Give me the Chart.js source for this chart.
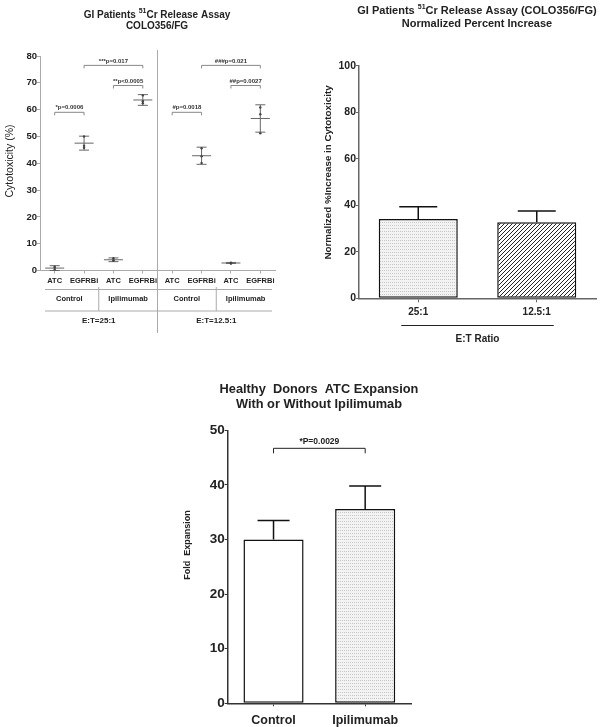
<!DOCTYPE html>
<html lang="en">
<head>
<meta charset="UTF-8">
<title>GI Patients 51Cr Release Assay / ATC Expansion</title>
<script src="https://cdn.jsdelivr.net/npm/chart.js"></script>
<style>
  body { margin: 0; background: #fff; }
  canvas { position: absolute; }
</style>
</head>
<body>
<canvas id="chartA" width="300" height="345" style="left:0;top:0"></canvas>
<canvas id="chartB" width="300" height="345" style="left:300px;top:0"></canvas>
<canvas id="chartC" width="300" height="362" style="left:150px;top:365px"></canvas>

<script>
// ---- panel A: cytotoxicity, replicate points + mean/SD ----
const cellsA = ['ATC', 'EGFRBi', 'ATC', 'EGFRBi', 'ATC', 'EGFRBi', 'ATC', 'EGFRBi'];
const treatA = ['Control', 'Ipilimumab', 'Control', 'Ipilimumab'];
const ratioA = ['E:T=25:1', 'E:T=12.5:1'];
const rep1A = [0.3, 50.0, 4.6, 65.3, null, 45.6, 2.9, 60.8];
const rep2A = [1.4, 46.5, 3.6, 62.4, null, 42.6, 2.6, 58.3];
const rep3A = [1.0, 45.8, 3.8, 63.1, null, 40.1, 2.7, 51.2];
const meanA = [0.9, 47.5, 4.0, 63.6, null, 42.8, 2.8, 56.7];
const sdA   = [0.9, 2.6, 0.7, 2.0, null, 3.2, 0.2, 5.1];
const sigTextA = ['*p=0.0006', '**p<0.0005', '***p=0.017', '#p=0.0018', '##p=0.0027', '###p=0.021'];
const sigFromA = [0, 2, 1, 4, 6, 5];
const sigToA   = [1, 3, 3, 5, 7, 7];
const sigAtA   = [59, 69, 76.5, 59, 69, 76.5];

// ---- panel B: normalized % increase ----
const ratioB = ['25:1', '12.5:1'];
const meanB = [34.1, 32.7];
const errB  = [5.3, 4.8];

// ---- panel C: fold expansion ----
const groupC = ['Control', 'Ipilimumab'];
const meanC = [30.0, 35.6];
const errC  = [3.5, 4.2];
const sigTextC = '*P=0.0029';
const sigAtC = 46.7;

const FONT = 'Arial, "Liberation Sans", sans-serif';
Chart.defaults.font.family = FONT;
Chart.defaults.color = '#222';

function stipple() {
  const c = document.createElement('canvas');
  c.width = 2; c.height = 3;
  const g = c.getContext('2d');
  g.fillStyle = '#f3f3f3'; g.fillRect(0, 0, 2, 3);
  g.fillStyle = '#c6c6c6'; g.fillRect(0, 0, 1, 1);
  return g.createPattern(c, 'repeat');
}
function hatch() {
  const s = 4, c = document.createElement('canvas');
  c.width = s; c.height = s;
  const g = c.getContext('2d');
  g.fillStyle = '#fff'; g.fillRect(0, 0, s, s);
  g.strokeStyle = '#222'; g.lineWidth = 1;
  g.beginPath();
  g.moveTo(0, s); g.lineTo(s, 0);
  g.moveTo(-1, 1); g.lineTo(1, -1);
  g.moveTo(s - 1, s + 1); g.lineTo(s + 1, s - 1);
  g.stroke();
  return g.createPattern(c, 'repeat');
}

function text(ctx, s, x, y, size, o = {}) {
  ctx.save();
  ctx.font = `${o.weight || 'bold'} ${size}px ${FONT}`;
  ctx.fillStyle = o.color || '#222';
  ctx.textAlign = o.align || 'center';
  ctx.textBaseline = 'middle';
  if (o.rotate) {
    ctx.translate(x, y); ctx.rotate(-Math.PI / 2); ctx.fillText(s, 0, 0);
  } else {
    ctx.fillText(s, x, y);
  }
  ctx.restore();
}
// title with superscript "51"
function supTitle(ctx, pre, sup, post, cx, y, size) {
  const f = `bold ${size}px ${FONT}`, fs = `bold ${Math.round(size * 0.65)}px ${FONT}`;
  ctx.save();
  ctx.font = f; const w1 = ctx.measureText(pre).width, w3 = ctx.measureText(post).width;
  ctx.font = fs; const w2 = ctx.measureText(sup).width;
  let x = cx - (w1 + w2 + w3) / 2;
  ctx.fillStyle = '#222'; ctx.textBaseline = 'middle'; ctx.textAlign = 'left';
  ctx.font = f; ctx.fillText(pre, x, y); x += w1;
  ctx.font = fs; ctx.fillText(sup, x, y - size * 0.35); x += w2;
  ctx.font = f; ctx.fillText(post, x, y);
  ctx.restore();
}
function line(ctx, x1, y1, x2, y2, color, w) {
  ctx.save();
  ctx.strokeStyle = color; ctx.lineWidth = w || 1;
  ctx.beginPath(); ctx.moveTo(x1, y1); ctx.lineTo(x2, y2); ctx.stroke();
  ctx.restore();
}
function bracket(ctx, x1, x2, y, drop, color, w) {
  ctx.save();
  ctx.strokeStyle = color; ctx.lineWidth = w || 1;
  ctx.beginPath();
  ctx.moveTo(x1, y + drop); ctx.lineTo(x1, y); ctx.lineTo(x2, y); ctx.lineTo(x2, y + drop);
  ctx.stroke();
  ctx.restore();
}

// ---------------- panel A ----------------
const panelA = {
  id: 'panelA',
  beforeDatasetsDraw(chart) {
    const ctx = chart.ctx, x = chart.scales.x, y = chart.scales.y;
    meanA.forEach((m, i) => {
      if (m == null) return;
      const cx = x.getPixelForValue(i);
      const ym = y.getPixelForValue(m), yt = y.getPixelForValue(m + sdA[i]), yb = y.getPixelForValue(m - sdA[i]);
      line(ctx, cx - 9.5, ym, cx + 9.5, ym, '#666');
      line(ctx, cx, yt, cx, yb, '#666');
      line(ctx, cx - 5, yt, cx + 5, yt, '#666');
      line(ctx, cx - 5, yb, cx + 5, yb, '#666');
    });
  },
  afterDraw(chart) {
    const ctx = chart.ctx, x = chart.scales.x, y = chart.scales.y, a = chart.chartArea;
    const px = i => x.getPixelForValue(i);
    const half = (px(1) - px(0)) / 2;

    supTitle(ctx, 'GI Patients ', '51', 'Cr Release Assay', 157, 15, 10);
    text(ctx, 'COLO356/FG', 157, 26.5, 10);
    text(ctx, 'Cytotoxicity (%)', 10, 161, 10.5, { weight: 'normal', rotate: true });

    sigTextA.forEach((s, k) => {
      const yy = y.getPixelForValue(sigAtA[k]);
      bracket(ctx, px(sigFromA[k]), px(sigToA[k]), yy, 3, '#888');
      text(ctx, s, (px(sigFromA[k]) + px(sigToA[k])) / 2, yy - 4.5, 6, { color: '#333' });
    });

    // group headers under the axis
    line(ctx, px(3) + half, a.top - 6, px(3) + half, 333, '#aaa');
    line(ctx, px(1) + half, 287, px(1) + half, 311, '#aaa');
    line(ctx, px(5) + half, 287, px(5) + half, 311, '#aaa');
    line(ctx, a.left + 5, 289.5, a.right - 3, 289.5, '#aaa');
    line(ctx, a.left + 5, 311, a.right - 3, 311, '#aaa');
    treatA.forEach((t, k) => text(ctx, t, (px(2 * k) + px(2 * k + 1)) / 2, 298.5, 7.5));
    ratioA.forEach((t, k) => text(ctx, t, (px(4 * k) + px(4 * k + 3)) / 2, 321, 8));
  }
};

new Chart(document.getElementById('chartA'), {
  type: 'line',
  data: {
    labels: cellsA,
    datasets: [rep1A, rep2A, rep3A].map(d => ({
      data: d, showLine: false, pointRadius: 1.2, pointBorderWidth: 0,
      pointBackgroundColor: '#444'
    }))
  },
  options: {
    responsive: false, animation: false,
    layout: { padding: { top: 56, right: 25, left: 0, bottom: 0 } },
    plugins: { legend: { display: false }, tooltip: { enabled: false } },
    scales: {
      x: {
        offset: true,
        grid: { drawOnChartArea: false, offset: false, tickLength: 3, color: '#aaa' },
        border: { color: '#aaa' },
        ticks: { font: { size: 7.5, weight: 'bold' }, padding: 3, maxRotation: 0, autoSkip: false },
        afterFit: s => { s.height = 74.5; }
      },
      y: {
        min: 0, max: 80,
        grid: { drawOnChartArea: false, tickLength: 3, color: '#aaa' },
        border: { color: '#aaa' },
        ticks: { stepSize: 10, font: { size: 9.5, weight: 'bold' }, padding: 0 },
        afterFit: s => { s.width = 40; }
      }
    }
  },
  plugins: [panelA]
});

// ---------------- panel B ----------------
const panelB = {
  id: 'panelB',
  afterDatasetsDraw(chart) {
    const ctx = chart.ctx, x = chart.scales.x, y = chart.scales.y;
    meanB.forEach((m, i) => {
      const cx = x.getPixelForValue(i), y0 = y.getPixelForValue(m), y1 = y.getPixelForValue(m + errB[i]);
      line(ctx, cx, y0, cx, y1, '#111', 1.5);
      line(ctx, cx - 19, y1, cx + 19, y1, '#111', 1.5);
    });
  },
  afterDraw(chart) {
    const ctx = chart.ctx, x = chart.scales.x;
    supTitle(ctx, 'GI Patients ', '51', 'Cr Release Assay (COLO356/FG)', 177, 11, 11);
    text(ctx, 'Normalized Percent Increase', 177, 24, 11);
    text(ctx, 'Normalized %Increase in Cytotoxicity', 28, 172.5, 9.8, { rotate: true });
    const x0 = x.getPixelForValue(0), x1 = x.getPixelForValue(1);
    line(ctx, x0 - 17, 325.5, x1 + 17, 325.5, '#222', 1);
    text(ctx, 'E:T Ratio', (x0 + x1) / 2, 339, 10);
  }
};

new Chart(document.getElementById('chartB'), {
  type: 'bar',
  data: {
    labels: ratioB,
    datasets: [{
      data: meanB,
      backgroundColor: [stipple(), hatch()],
      borderColor: '#111', borderWidth: 1.5, borderSkipped: false,
      barPercentage: 0.667, categoryPercentage: 1
    }]
  },
  options: {
    responsive: false, animation: false,
    layout: { padding: { top: 65.7, right: 4, left: 0, bottom: 0 } },
    plugins: { legend: { display: false }, tooltip: { enabled: false } },
    scales: {
      x: {
        grid: { drawOnChartArea: false, offset: false, tickLength: 4, color: '#666' },
        border: { color: '#666', width: 1.5 },
        ticks: { font: { size: 10, weight: 'bold' }, padding: 4 },
        afterFit: s => { s.height = 46.7; }
      },
      y: {
        min: 0, max: 100,
        grid: { drawOnChartArea: false, tickLength: 3, color: '#666' },
        border: { color: '#666', width: 1.5 },
        ticks: { stepSize: 20, font: { size: 10.5, weight: 'bold' }, padding: 0 },
        afterFit: s => { s.width = 59; }
      }
    }
  },
  plugins: [panelB]
});

// ---------------- panel C ----------------
const panelC = {
  id: 'panelC',
  afterDatasetsDraw(chart) {
    const ctx = chart.ctx, x = chart.scales.x, y = chart.scales.y;
    meanC.forEach((m, i) => {
      const cx = x.getPixelForValue(i), y0 = y.getPixelForValue(m), y1 = y.getPixelForValue(m + errC[i]);
      line(ctx, cx, y0, cx, y1, '#111', 1.5);
      line(ctx, cx - 16, y1, cx + 16, y1, '#111', 1.5);
    });
  },
  afterDraw(chart) {
    const ctx = chart.ctx, x = chart.scales.x, y = chart.scales.y;
    text(ctx, 'Healthy  Donors  ATC Expansion', 169, 24, 12.8);
    text(ctx, 'With or Without Ipilimumab', 169, 39, 12.8);
    text(ctx, 'Fold  Expansion', 38, 180, 9, { rotate: true });
    const x0 = x.getPixelForValue(0), x1 = x.getPixelForValue(1), yy = y.getPixelForValue(sigAtC);
    bracket(ctx, x0, x1, yy, 5, '#222', 1);
    text(ctx, sigTextC, (x0 + x1) / 2, yy - 7, 8.5);
  }
};

new Chart(document.getElementById('chartC'), {
  type: 'bar',
  data: {
    labels: groupC,
    datasets: [{
      data: meanC,
      backgroundColor: ['#fff', stipple()],
      borderColor: '#111', borderWidth: 1.5, borderSkipped: false,
      barPercentage: 0.656, categoryPercentage: 1
    }]
  },
  options: {
    responsive: false, animation: false,
    layout: { padding: { top: 65.3, right: 39, left: 0, bottom: 0 } },
    plugins: { legend: { display: false }, tooltip: { enabled: false } },
    scales: {
      x: {
        grid: { drawOnChartArea: false, offset: false, tickLength: 3, color: '#333' },
        border: { color: '#333', width: 1.5 },
        ticks: { font: { size: 12.5, weight: 'bold' }, padding: 7 },
        afterFit: s => { s.height = 23.7; }
      },
      y: {
        min: 0, max: 50,
        grid: { drawOnChartArea: false, tickLength: 3, color: '#333' },
        border: { color: '#333', width: 1.5 },
        ticks: { stepSize: 10, font: { size: 13.5, weight: 'bold' }, padding: 0 },
        afterFit: s => { s.width = 77.7; }
      }
    }
  },
  plugins: [panelC]
});
</script>
</body>
</html>
